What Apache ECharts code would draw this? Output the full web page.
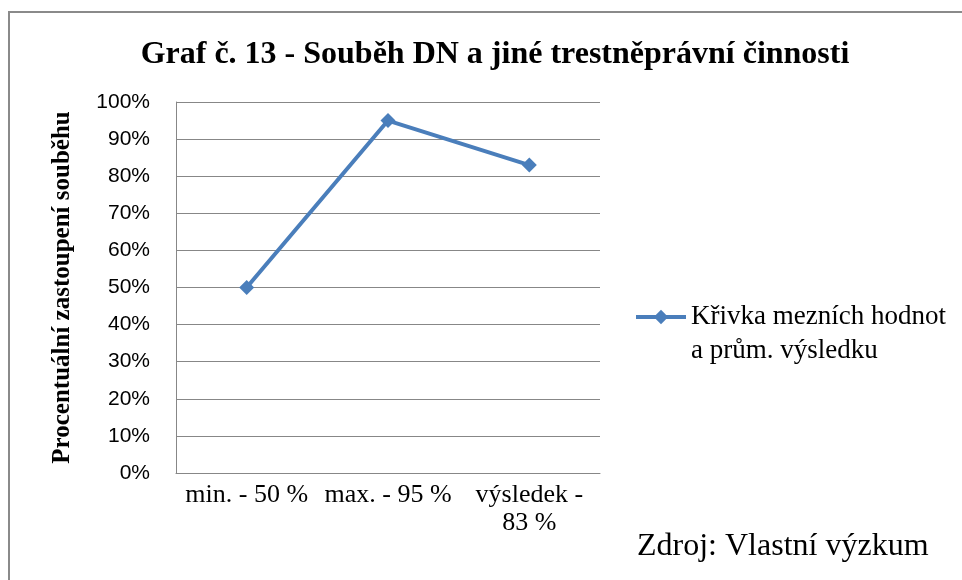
<!DOCTYPE html>
<html>
<head>
<meta charset="utf-8">
<script src="https://cdn.jsdelivr.net/npm/echarts@6/dist/echarts.min.js"></script>
<style>
  html, body { margin: 0; padding: 0; background: #fff; }
  #chart { width: 962px; height: 580px; }
</style>
</head>
<body>
<div id="chart"></div>
<script>
const categories = ['min. - 50 %', 'max. - 95 %', 'výsledek -\n83 %']
const values = [50, 95, 83]
const seriesName = 'Křivka mezních hodnot\na prům. výsledku'

const serif = '"Liberation Serif", "DejaVu Serif", serif'
const sans = '"Liberation Sans", Arial, sans-serif'
const lineColor = '#4a7ebb'

const chart = echarts.init(document.getElementById('chart'))
chart.setOption({
  animation: false,
  backgroundColor: '#fff',
  title: {
    text: 'Graf č. 13 - Souběh DN a jiné trestněprávní činnosti',
    left: 490,
    textAlign: 'center',
    top: 34,
    textStyle: {
      fontFamily: serif,
      fontSize: 32,
      fontWeight: 'bold',
      color: '#000',
    },
  },
  legend: {
    left: 634,
    top: 266,
    padding: 0,
    itemWidth: 50,
    itemHeight: 18,
    itemGap: 0,
    lineStyle: { width: 4 },
    // blank first line so the first text line sits level with the icon
    formatter: name => '\n' + name,
    textStyle: {
      fontFamily: serif,
      fontSize: 27,
      color: '#000',
      lineHeight: 34,
    },
    data: [seriesName],
  },
  graphic: [
    {
      type: 'rect',
      shape: { x: 9, y: 12, width: 960, height: 580 },
      style: { fill: 'none', stroke: '#8a8a8a', lineWidth: 2 },
    },
    {
      type: 'text',
      left: 637,
      top: 531,
      style: {
        text: 'Zdroj: Vlastní výzkum',
        fontFamily: serif,
        fontSize: 32,
        fill: '#000',
      },
    },
  ],
  grid: {
    left: 176,
    right: 362,
    top: 102,
    bottom: 107,
  },
  xAxis: {
    type: 'category',
    data: categories,
    boundaryGap: true,
    axisLine: { lineStyle: { color: '#878787' } },
    axisTick: { show: false },
    axisLabel: {
      fontFamily: serif,
      fontSize: 26,
      color: '#000',
      margin: 8,
      lineHeight: 28,
      interval: 0,
    },
  },
  yAxis: {
    type: 'value',
    min: 0,
    max: 100,
    interval: 10,
    name: 'Procentuální zastoupení souběhu',
    nameLocation: 'middle',
    nameGap: 101,
    nameTextStyle: {
      fontFamily: serif,
      fontSize: 25,
      fontWeight: 'bold',
      color: '#000',
    },
    axisLine: { show: true, lineStyle: { color: '#878787' } },
    axisTick: { show: false },
    axisLabel: {
      formatter: '{value}%',
      fontFamily: sans,
      fontSize: 21,
      color: '#000',
      margin: 26,
    },
    splitLine: { lineStyle: { color: '#878787', width: 1 } },
  },
  series: [
    {
      name: seriesName,
      type: 'line',
      data: values,
      symbol: 'diamond',
      symbolSize: 15,
      lineStyle: { color: lineColor, width: 4 },
      itemStyle: { color: lineColor },
    },
  ],
})
</script>
</body>
</html>
